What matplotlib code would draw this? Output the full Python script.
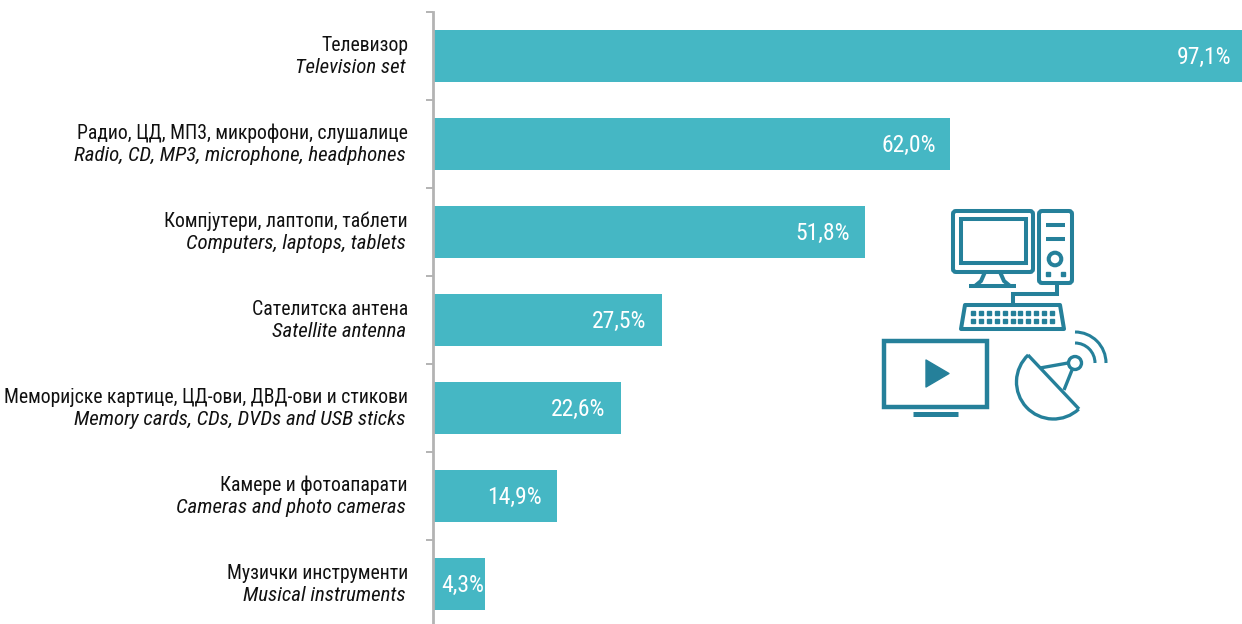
import numpy as np
import matplotlib
matplotlib.use("Agg")
import matplotlib.pyplot as plt
from matplotlib.patches import FancyBboxPatch, Polygon, Rectangle, Circle, PathPatch
from matplotlib.path import Path
from matplotlib.transforms import Affine2D

names_sr = ["Телевизор", "Радио, ЦД, МП3, микрофони, слушалице", "Компјутери, лаптопи, таблети",
            "Сателитска антена", "Меморијске картице, ЦД-ови, ДВД-ови и стикови",
            "Камере и фотоапарати", "Музички инструменти"]
names_en = ["Television set", "Radio, CD, MP3, microphone, headphones", "Computers, laptops, tablets",
            "Satellite antenna", "Memory cards, CDs, DVDs and USB sticks",
            "Cameras and photo cameras", "Musical instruments"]
bar_lengths = [97.1, 62.0, 51.8, 27.5, 22.6, 14.9, 6.2]
value_labels = ["97,1%", "62,0%", "51,8%", "27,5%", "22,6%", "14,9%", "4,3%"]

narrow = 'Roboto Condensed'
BAR = '#45B7C4'; ICON = '#25809A'; AXC = '#B3B3B3'
label_pads_px = [11, 14, 15, 16, 16, 15, 0.5]

W, H = 1242, 624
fig = plt.figure(figsize=(W/100, H/100), dpi=100)
ax = fig.add_axes([433/W, 0, (W-433)/W, (H-12)/H])
y = np.arange(len(bar_lengths))
ax.barh(y, bar_lengths, height=0.6, color=BAR)
ax.set_xlim(0, 97.1)
ax.set_ylim(6.4545, -0.5)
for s in ['top', 'right', 'bottom']:
    ax.spines[s].set_visible(False)
ax.spines['left'].set_color(AXC); ax.spines['left'].set_linewidth(2)
ax.set_xticks([])
ax.set_yticks(y - 0.5)
ax.set_yticklabels([])
ax.tick_params(axis='y', length=5, width=1.4, color=AXC)
ax.patch.set_alpha(0)

px = 0.72
for i, (a, b, v, l, pad) in enumerate(zip(names_sr, names_en, bar_lengths, value_labels, label_pads_px)):
    ax.annotate(a, (0, i), xytext=(-25*px, 10.5*px), textcoords='offset points', ha='right', va='center',
                fontsize=14.2, family=narrow, color='#111111', annotation_clip=False)
    ax.annotate(b, (0, i), xytext=(-27*px, -11.5*px), textcoords='offset points', ha='right', va='center',
                fontsize=15, family=narrow, style='italic', color='#111111', annotation_clip=False)
    ax.annotate(l, (v, i), xytext=(-pad*px, -1.5*px), textcoords='offset points', ha='right', va='center',
                fontsize=17, family=narrow, color='white', annotation_clip=False)

# decorative icons, in pixel coordinates
ic = fig.add_axes([0, 0, 1, 1]); ic.set_xlim(0, W); ic.set_ylim(H, 0); ic.axis('off'); ic.patch.set_alpha(0)
lw = 2.9
kw = dict(fill=False, ec=ICON, lw=lw)
def rrect(x0, y0, x1, y1, r=3, **k):
    ic.add_patch(FancyBboxPatch((x0+r, y0+r), x1-x0-2*r, y1-y0-2*r, boxstyle=f"round,pad={r},rounding_size={r}", **k))
def ln(xs, ys, w=lw):
    ic.plot(xs, ys, color=ICON, lw=w, solid_capstyle='butt', solid_joinstyle='miter')
def arc(cx, cy, r, a0, a1, w=lw):
    p = Path.arc(a0, a1).transformed(Affine2D().scale(r).translate(cx, cy))
    ic.add_patch(PathPatch(p, fill=False, ec=ICON, lw=w))
# computer
rrect(953, 211, 1033, 272, **kw)
ic.add_patch(Rectangle((961, 219), 65, 44, **kw))
ln([985, 981, 975], [272, 281, 286]); ln([1000, 1004, 1010], [272, 281, 286])
ln([969, 1016], [286, 286])
rrect(1039, 211, 1072, 283, **kw)
ln([1046, 1065], [225, 225]); ln([1046, 1065], [239, 239])
ic.add_patch(Circle((1055, 259), 6.3, **kw))
for kx in (1048, 1063):
    ic.add_patch(Rectangle((kx-2, 272), 4, 4, color=ICON))
ln([1057, 1057, 1013, 1013], [283, 294, 294, 305])
ic.add_patch(Polygon([(965, 305), (1060, 305), (1064, 329), (961, 329)], closed=True, fill=False, ec=ICON, lw=lw, joinstyle='round'))
for ky in (313, 321):
    for kx in np.linspace(973, 1052, 11):
        ic.add_patch(Rectangle((kx-2, ky-2), 4, 4, color=ICON))
# tv
ic.add_patch(Rectangle((884, 341), 103, 66, fill=False, ec=ICON, lw=3.2))
ln([913, 958], [414, 414], 3.6)
ic.add_patch(Polygon([(926, 360), (926, 387), (949, 373.5)], closed=True, color=ICON, joinstyle='round'))
# dish
ln([1028, 1079], [355, 409], 2.4)
arc(1053.5, 382, 37, 47, 227, 2.4)
ln([1040, 1068], [368, 363], 2.4)
ln([1064, 1072], [390, 370], 2.4)
ic.add_patch(Circle((1075, 363), 6.5, fill=False, ec=ICON, lw=2.4))
arc(1075, 363, 20, 270, 360, 2.2)
arc(1075, 363, 31, 270, 360, 2.2)

fig.savefig('out.png', dpi=100)
